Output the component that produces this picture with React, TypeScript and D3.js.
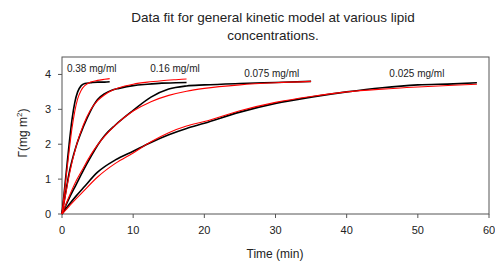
import * as d3 from 'd3'

type Pt = [number, number]

// measured curves (black) and model fits (red), time in min, surface conc in mg m-2
const exp038: Pt[] = [[0, 0], [0.3, 0.6], [0.6, 1.2], [1, 2.0], [1.4, 2.7], [1.8, 3.2], [2.2, 3.5], [2.7, 3.68], [3.2, 3.74], [4, 3.76], [5, 3.78], [6, 3.78], [6.7, 3.79]]
const fit038: Pt[] = [[0, 0], [0.3, 0.55], [0.6, 1.1], [1, 1.8], [1.4, 2.45], [1.8, 2.95], [2.2, 3.3], [2.7, 3.55], [3.2, 3.68], [4, 3.78], [5, 3.83], [6, 3.86], [6.7, 3.88]]
const exp016: Pt[] = [[0, 0], [0.5, 0.6], [1, 1.17], [2, 1.95], [3, 2.5], [4, 2.95], [5, 3.28], [6, 3.45], [7, 3.55], [8, 3.6], [10, 3.68], [12, 3.72], [14, 3.75], [16, 3.76], [17.5, 3.77]]
const fit016: Pt[] = [[0, 0], [0.5, 0.55], [1, 1.1], [2, 1.95], [3, 2.55], [4, 2.98], [5, 3.25], [6, 3.42], [7, 3.54], [8, 3.62], [10, 3.72], [12, 3.78], [14, 3.82], [16, 3.85], [17.5, 3.87]]
const exp0075: Pt[] = [[0, 0], [1, 0.45], [2, 0.85], [3, 1.25], [4, 1.62], [5, 1.97], [6, 2.25], [7.5, 2.55], [10, 2.97], [12.5, 3.35], [15, 3.58], [17.5, 3.67], [20, 3.7], [25, 3.74], [30, 3.77], [35, 3.8]]
const fit0075: Pt[] = [[0, 0], [1, 0.5], [2, 0.95], [3, 1.32], [4, 1.68], [5, 1.98], [6, 2.23], [7.5, 2.55], [10, 2.95], [12.5, 3.22], [15, 3.4], [17.5, 3.52], [20, 3.6], [25, 3.7], [30, 3.76], [35, 3.8]]
const exp0025: Pt[] = [[0, 0], [1, 0.27], [2, 0.52], [3, 0.75], [5, 1.2], [7.5, 1.55], [10, 1.8], [12.5, 2.05], [15, 2.27], [17.5, 2.45], [20, 2.6], [25, 2.92], [30, 3.17], [35, 3.35], [40, 3.5], [45, 3.62], [50, 3.7], [55, 3.73], [58.3, 3.76]]
const fit0025: Pt[] = [[0, 0], [1, 0.22], [2, 0.44], [3, 0.65], [5, 1.06], [7.5, 1.45], [10, 1.75], [12.5, 2.07], [15, 2.33], [17.5, 2.52], [20, 2.65], [25, 2.96], [30, 3.2], [35, 3.37], [40, 3.5], [45, 3.58], [50, 3.64], [55, 3.69], [58.3, 3.72]]

const expCurves = [exp038, exp016, exp0075, exp0025]
const fitCurves = [fit038, fit016, fit0075, fit0025]

const concLabels = ['0.38 mg/ml', '0.16 mg/ml', '0.075 mg/ml', '0.025 mg/ml']
const labelPos: Pt[] = [[0.7, 4.06], [12.4, 4.06], [25.6, 3.94], [46, 3.94]]

const xTicks = [0, 10, 20, 30, 40, 50, 60]
const yTicks = [0, 1, 2, 3, 4]

const font = 'Arial, "Liberation Sans", sans-serif'

export default function App() {
  const margin = { left: 62, right: 6, top: 57, bottom: 49 }
  const W = 495, H = 263
  const x = d3.scaleLinear().domain([0, 60]).range([margin.left, W - margin.right])
  const y = d3.scaleLinear().domain([0, 4.5]).range([H - margin.bottom, margin.top])
  const line = d3.line<Pt>().x((d) => x(d[0])).y((d) => y(d[1])).curve(d3.curveMonotoneX)
  const y0 = y(0)

  return (
    <svg width={W} height={H} style={{ position: 'absolute', left: 0, top: 0 }} fontFamily={font}>
      <rect width={W} height={H} fill="#fff" />
      <text x={273} y={22} textAnchor="middle" fontSize={13.5} fill="#222">Data fit for general kinetic model at various lipid</text>
      <text x={273} y={40} textAnchor="middle" fontSize={13.5} fill="#222">concentrations.</text>

      <rect x={x(0)} y={y(4.5)} width={x(60) - x(0)} height={y0 - y(4.5)} fill="none" stroke="#555" strokeWidth={1} />

      {xTicks.map((t) => (
        <g key={'x' + t}>
          <line x1={x(t)} x2={x(t)} y1={y0} y2={y0 + 4} stroke="#555" />
          <text x={x(t)} y={y0 + 20} textAnchor="middle" fontSize={11} fill="#222">{t}</text>
        </g>
      ))}
      {yTicks.map((t) => (
        <g key={'y' + t}>
          <line x1={x(0) - 4} x2={x(0)} y1={y(t)} y2={y(t)} stroke="#555" />
          <text x={x(0) - 11} y={y(t) + 4} textAnchor="end" fontSize={11} fill="#222">{t}</text>
        </g>
      ))}

      <text x={275} y={258} textAnchor="middle" fontSize={12} fill="#222">Time (min)</text>
      <text transform="translate(27,133) rotate(-90)" textAnchor="middle" fontSize={12} fill="#222">
        Γ(mg m<tspan dy={-5} fontSize={8}>2</tspan><tspan dy={5}>)</tspan>
      </text>

      {expCurves.map((c, i) => (
        <path key={'e' + i} d={line(c) ?? ''} fill="none" stroke="#000" strokeWidth={1.6} />
      ))}
      {fitCurves.map((c, i) => (
        <path key={'f' + i} d={line(c) ?? ''} fill="none" stroke="#ff0000" strokeWidth={1.1} />
      ))}

      {concLabels.map((l, i) => (
        <text key={l} x={x(labelPos[i][0])} y={y(labelPos[i][1])} fontSize={10} fill="#222">{l}</text>
      ))}
    </svg>
  )
}
